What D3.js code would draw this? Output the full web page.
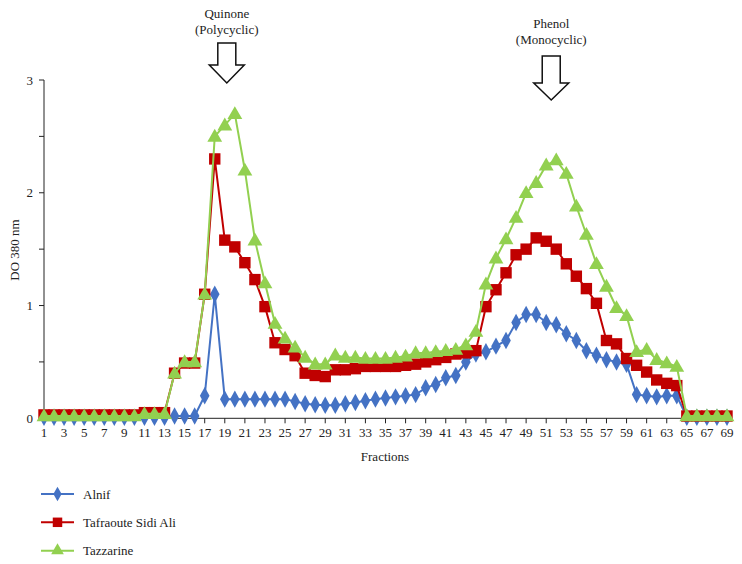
<!DOCTYPE html>
<html>
<head>
<meta charset="utf-8">
<script src="https://cdn.jsdelivr.net/npm/d3@7"></script>
<style>
  html, body { margin: 0; padding: 0; background: #fff; }
  svg { display: block; font-family: "Liberation Serif", "DejaVu Serif", serif; }
</style>
</head>
<body>
<svg id="chart" width="742" height="564"></svg>
<script>
// ---- Data ----
const fractions = d3.range(1, 70);
const alnif = [
  0.01,0.01,0.01,0.01,0.01,0.01,0.01,0.01,0.01,0.01, // 1-10
  0.01,0.01,0.01,0.02,0.02,0.02,0.20,1.10,0.17,0.17, // 11-20
  0.17,0.17,0.17,0.17,0.17,0.15,0.13,0.12,0.115,0.115, // 21-30
  0.13,0.14,0.155,0.17,0.18,0.19,0.20,0.21,0.27,0.30, // 31-40
  0.36,0.38,0.50,0.57,0.59,0.64,0.69,0.85,0.92,0.92, // 41-50
  0.85,0.83,0.75,0.69,0.60,0.56,0.52,0.50,0.48,0.21, // 51-60
  0.20,0.19,0.20,0.20,0.01,0.01,0.01,0.01,0.01       // 61-69
];
const tafraoute = [
  0.03,0.03,0.03,0.03,0.03,0.03,0.03,0.03,0.03,0.03,
  0.05,0.05,0.05,0.40,0.49,0.49,1.10,2.30,1.58,1.52,
  1.38,1.23,0.99,0.67,0.61,0.555,0.40,0.38,0.37,0.43,
  0.43,0.44,0.46,0.46,0.46,0.46,0.47,0.48,0.50,0.52,
  0.54,0.57,0.58,0.60,0.99,1.14,1.29,1.45,1.50,1.60,
  1.57,1.50,1.37,1.26,1.15,1.02,0.69,0.66,0.53,0.47,
  0.41,0.34,0.31,0.29,0.02,0.02,0.02,0.02,0.02
];
const tazzarine = [
  0.02,0.02,0.02,0.02,0.02,0.02,0.02,0.02,0.02,0.02,
  0.04,0.04,0.04,0.40,0.50,0.50,1.10,2.50,2.60,2.70,
  2.20,1.58,1.20,0.84,0.71,0.63,0.54,0.48,0.48,0.56,
  0.54,0.54,0.53,0.53,0.53,0.54,0.55,0.58,0.58,0.59,
  0.60,0.61,0.65,0.77,1.19,1.42,1.59,1.78,2.00,2.09,
  2.245,2.29,2.17,1.88,1.63,1.37,1.17,0.98,0.91,0.59,
  0.61,0.52,0.49,0.46,0.02,0.02,0.02,0.02,0.02
];
const seriesNames = ["Alnif", "Tafraoute Sidi Ali", "Tazzarine"];
const seriesColors = ["#4472C4", "#C00000", "#92D050"];
const seriesSymbols = [d3.symbolDiamond, d3.symbolSquare, d3.symbolTriangle];
const yTicks = [0, 0.5, 1, 1.5, 2, 2.5, 3];
const yLabels = [0, 1, 2, 3];
const xLabelTicks = fractions.filter(f => f % 2 === 1);
const annotations = [
  { lines: ["Quinone", "(Polycyclic)"], at: 19.2, textTop: 13, arrowTop: 43, shaftBottom: 65, tip: 83 },
  { lines: ["Phenol", "(Monocyclic)"], at: 51.5, textTop: 23, arrowTop: 56, shaftBottom: 83, tip: 100 }
];

// ---- Layout ----
const svg = d3.select("#chart");
const x = d3.scaleLinear().domain([1, 69]).range([44, 727]);
const y = d3.scaleLinear().domain([0, 3]).range([418.3, 80]);
const axisColor = "#222";
const fs = 13;

// Y axis
const yAxisG = svg.append("g").attr("transform", `translate(${x(1)},0)`);
yAxisG.append("line").attr("x1", 0).attr("x2", 0).attr("y1", y(3)).attr("y2", y(0))
  .attr("stroke", axisColor).attr("stroke-width", 1);
yAxisG.selectAll("line.tk").data(yTicks).join("line").attr("class", "tk")
  .attr("x1", -5).attr("x2", 0).attr("y1", d => y(d)).attr("y2", d => y(d))
  .attr("stroke", axisColor).attr("stroke-width", 1);
yAxisG.selectAll("text").data(yLabels).join("text")
  .attr("x", -11).attr("y", d => y(d)).attr("dy", "0.35em")
  .attr("text-anchor", "end").attr("font-size", fs).attr("fill", "#222")
  .text(d => d);

// X axis
const xAxisG = svg.append("g").attr("transform", `translate(0,${y(0)})`);
xAxisG.append("line").attr("x1", x(1)).attr("x2", x(69) + 4).attr("y1", 0).attr("y2", 0)
  .attr("stroke", axisColor).attr("stroke-width", 1);
xAxisG.selectAll("line.tk").data(xLabelTicks.filter(d => d > 1)).join("line").attr("class", "tk")
  .attr("x1", d => x(d)).attr("x2", d => x(d)).attr("y1", 0).attr("y2", 5)
  .attr("stroke", axisColor).attr("stroke-width", 1);
xAxisG.selectAll("text").data(xLabelTicks).join("text")
  .attr("x", d => x(d)).attr("y", 19)
  .attr("text-anchor", "middle").attr("font-size", fs).attr("fill", "#222")
  .text(d => d);

// Axis titles
svg.append("text").attr("x", 385).attr("y", 461).attr("text-anchor", "middle")
  .attr("font-size", fs).attr("fill", "#222").text("Fractions");
svg.append("text").attr("transform", "translate(19,250) rotate(-90)")
  .attr("text-anchor", "middle").attr("font-size", fs).attr("fill", "#222").text("DO 380 nm");

// Series
const allSeries = [alnif, tafraoute, tazzarine];
const line = d3.line().x((d, i) => x(fractions[i])).y(d => y(d));
const symbolSizes = [80, 130, 95];
allSeries.forEach((vals, si) => {
  const g = svg.append("g");
  g.append("path").datum(vals).attr("d", line).attr("fill", "none")
    .attr("stroke", seriesColors[si]).attr("stroke-width", 2);
  const sym = d3.symbol().type(seriesSymbols[si]).size(symbolSizes[si]);
  g.selectAll("path.m").data(vals).join("path").attr("class", "m")
    .attr("d", sym)
    .attr("transform", (d, i) => `translate(${x(fractions[i])},${y(d) + (si === 2 ? 1 : 0)})${si === 0 ? " scale(1,1.05)" : ""}`)
    .attr("fill", seriesColors[si]);
});

// Annotations (hollow arrows)
annotations.forEach(a => {
  const cx = x(a.at);
  a.lines.forEach((t, i) => {
    svg.append("text").attr("x", cx).attr("y", a.textTop + i * 16).attr("dy", "0.35em")
      .attr("text-anchor", "middle").attr("font-size", fs).attr("fill", "#222").text(t);
  });
  const sw = 9, hw = 17.5;
  const pts = [
    [cx - sw, a.arrowTop], [cx + sw, a.arrowTop], [cx + sw, a.shaftBottom],
    [cx + hw, a.shaftBottom], [cx, a.tip], [cx - hw, a.shaftBottom], [cx - sw, a.shaftBottom]
  ];
  svg.append("path").attr("d", "M" + pts.map(p => p.join(",")).join("L") + "Z")
    .attr("fill", "#fff").attr("stroke", "#111").attr("stroke-width", 1.5);
});

// Legend
const legendY = [494, 522.3, 550.7];
const legendSizes = [60, 90, 70];
seriesNames.forEach((name, si) => {
  const g = svg.append("g");
  g.append("line").attr("x1", 41).attr("x2", 74).attr("y1", legendY[si]).attr("y2", legendY[si])
    .attr("stroke", seriesColors[si]).attr("stroke-width", 2);
  g.append("path").attr("d", d3.symbol().type(seriesSymbols[si]).size(legendSizes[si])())
    .attr("transform", `translate(57.5,${legendY[si]})`).attr("fill", seriesColors[si]);
  g.append("text").attr("x", 83).attr("y", legendY[si]).attr("dy", "0.35em")
    .attr("font-size", fs).attr("fill", "#222").text(name);
});
</script>
</body>
</html>
